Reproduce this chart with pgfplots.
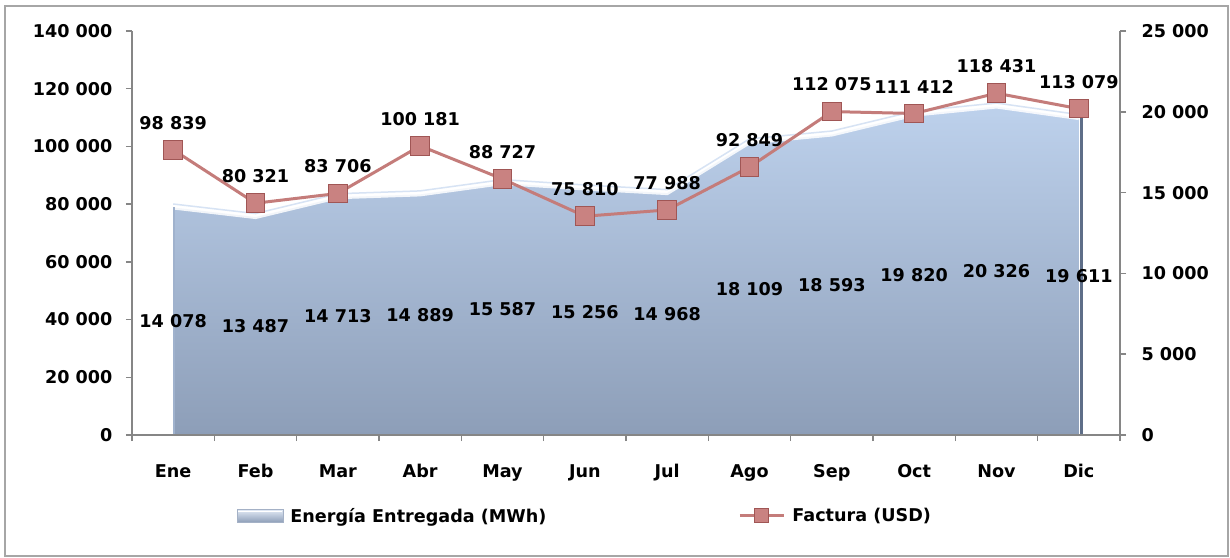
\documentclass[border=0pt]{standalone}
\usepackage{fontspec}
\setmainfont{DejaVu Sans}
\usepackage{pgfplots}
\usepackage{pgfplotstable}
\pgfplotsset{compat=1.18}

\definecolor{lineC}{HTML}{C47C7A}
\definecolor{markF}{HTML}{C98281}
\definecolor{markD}{HTML}{A05655}
\definecolor{areaTop}{HTML}{BDD1EC}
\definecolor{areaMid}{HTML}{A9BEDD}
\definecolor{areaBot}{HTML}{8D9EB8}
\definecolor{areaSide}{HTML}{5E6E88}
\definecolor{axisC}{HTML}{868686}
\definecolor{frameC}{HTML}{A6A6A6}

\pgfplotstableread{
x e f
0 14078 98839
1 13487 80321
2 14713 83706
3 14889 100181
4 15587 88727
5 15256 75810
6 14968 77988
7 18109 92849
8 18593 112075
9 19820 111412
10 20326 118431
11 19611 113079
}\data

\newcommand{\lbl}{\bfseries\fontsize{17.6bp}{21bp}\selectfont}

\pgfplotsset{
  /pgf/number format/.cd, fixed, precision=0, 1000 sep={\space}, assume math mode=true,
  /pgfplots/.cd,
  common/.style={
    scale only axis, width=988bp, height=404bp,
    xmin=-0.5, xmax=11.5,
    axis line style={axisC, line width=1.5bp, -},
    tick style={axisC, line width=1.5bp},
    tick align=outside, major tick length=6bp,
    tick label style={font=\lbl},
    scaled y ticks=false,
    yticklabel={\pgfmathprintnumber[fixed,precision=0,1000 sep={\space},assume math mode=true]{\tick}},
  },
  widelegend/.style={legend image code/.code={\draw[mark repeat=2, mark phase=2, ##1] plot coordinates {(0bp,0bp) (22bp,0bp) (44bp,0bp)};}},
  arealegend/.style={legend image code/.code={\fill[draw=areaBot!80!white, line width=0.6bp, top color=areaTop!40!white, middle color=areaMid, bottom color=areaBot] (0bp,-6.5bp) rectangle (46bp,6.5bp);
     \draw[white, line width=1.5bp] (1bp,4.3bp) -- (45bp,4.3bp);}},
}

\begin{document}
\begin{tikzpicture}
\path[fill=white] (-132bp,-123bp) rectangle (1098bp,435bp);
\draw[frameC, line width=1.5bp] (-127bp,-121bp) rectangle (1096bp,429bp);

% right axis: energy area
\begin{axis}[common,
  ymin=0, ymax=25000,
  axis x line=none, axis y line*=right,
  ytick={0,5000,...,25000},
  yticklabel shift=12bp,
  yticklabel style={anchor=west},
]
\addplot[draw=none, top color=areaTop, middle color=areaMid, bottom color=areaBot] table[x=x,y=e]{\data} \closedcycle;
\addplot[white, line width=4bp, opacity=0.85] table[x=x,y=e]{\data};
\addplot[color=areaTop!60!white, line width=1.5bp, yshift=3.5bp] table[x=x,y=e]{\data};
\addplot[areaSide, line width=3.5bp, xshift=2.5bp] coordinates {(11,0) (11,19611)};
\addplot[areaTop!40!areaBot, line width=2bp, xshift=1bp] coordinates {(0,0) (0,14078)};
\addplot[draw=none, nodes near coords, point meta=explicit,
  every node near coord/.style={anchor=center, font=\lbl, text=black}]
  table[x=x, y expr=\thisrow{e}/2, meta=e]{\data};
\end{axis}

% left axis: invoice line
\begin{axis}[common,
  ymin=0, ymax=140000,
  axis y line*=left, axis x line*=bottom,
  ytick={0,20000,...,140000},
  yticklabel shift=10bp,
  xtick={0,...,11},
  xticklabels={Ene,Feb,Mar,Abr,May,Jun,Jul,Ago,Sep,Oct,Nov,Dic},
  major x tick style={draw=none},
  minor xtick={-0.5,0.5,...,11.5},
  minor tick length=6bp,
  xticklabel shift=20bp,
  legend style={at={(0.4584,-0.2)}, anchor=center, draw=none, fill=none,
    font=\lbl, legend columns=2, /tikz/column 2/.style={column sep=190bp},
    /tikz/every odd column/.append style={column sep=5bp}},
]
\addlegendimage{arealegend}
\addlegendentry{Energía Entregada (MWh)}
\addlegendimage{lineC, line width=3bp, mark=square*, mark size=7bp,
  mark options={fill=markF, draw=markD, line width=1bp}, widelegend}
\addlegendentry{Factura (USD)}
\addplot[lineC, line width=3bp, mark=square*, mark size=9.3bp,
  mark options={fill=markF, draw=markD, line width=1bp},
  nodes near coords, point meta=explicit,
  every node near coord/.style={anchor=center, yshift=27bp, font=\lbl, text=black},
  forget plot] table[x=x,y=f,meta=f]{\data};
\end{axis}
\end{tikzpicture}
\end{document}
